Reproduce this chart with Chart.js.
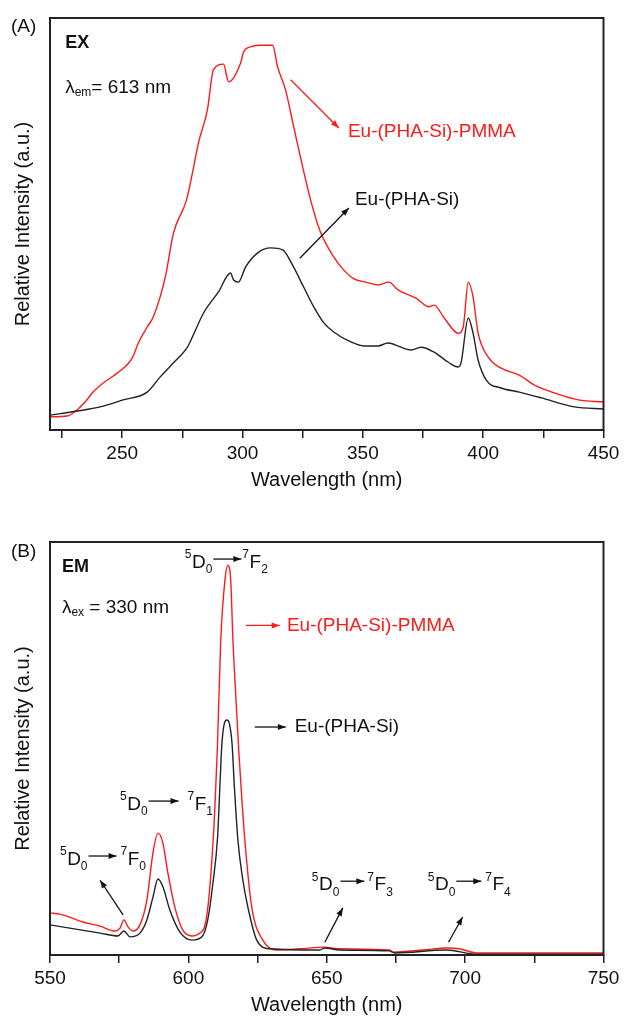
<!DOCTYPE html>
<html><head><meta charset="utf-8">
<script src="https://cdn.jsdelivr.net/npm/chart.js@4.4.1/dist/chart.umd.min.js"></script>
<style>
html,body{margin:0;padding:0;background:#fff;}
body{width:624px;height:1018px;position:relative;overflow:hidden;font-family:"Liberation Sans",Arial,sans-serif;}
.wrap{position:absolute;left:0;width:624px;}
#wa{top:0;height:492px;}
#wb{top:520px;height:497px;}
.pl{position:absolute;font-size:19px;color:#111;line-height:1;}
</style></head><body>
<div class="wrap" id="wa"><canvas id="ca"></canvas></div>
<div class="wrap" id="wb"><canvas id="cb"></canvas></div>
<div class="pl" style="left:11px;top:16px">(A)</div>
<div class="pl" style="left:11px;top:541px">(B)</div>
<script>
// ---- Panel A: excitation spectra (λem = 613 nm) ----
const exPmmaX = [220,227.1,231.3,234.6,237.9,242.1,247.9,254.2,256.7,260.4,262.9,267.9,271.3,276.7,279.2,281.7,285.4,287.9,292.1,294.2,299.2,300.4,303.3,306.7,312.5,314.6,317.9,321.3,325,328.3,332.1,337.9,342.1,346.3,351.3,356.3,360.8,364.6,372.1,377.5,379.6,383.8,389.6,391.7,393.8,395.8,397.9,402.1,407.5,415,421.3,429.6,439.6,450];
const exPmmaY = [3.2,3.4,4.9,6.8,9.2,11.4,13.8,17.5,21.1,25.0,27.4,37.1,47.8,55.8,62.4,69.7,77.7,87.4,88.8,84.5,89.1,91.7,93.0,93.4,93.4,88.1,82.5,73.5,63.8,55.8,48.5,42.0,38.8,36.7,35.9,35.2,35.9,34.0,32.0,29.9,30.3,27.2,23.5,25.0,35.9,32.3,23.5,17.7,15.0,13.3,10.9,9.0,7.3,6.8];
const exNeatX = [220,231.3,240.8,250.4,260.4,265.8,271.3,277.1,279.2,283.8,290,295,296.3,298.3,301.3,306.3,311.7,316.7,320.8,325.4,329.6,333.8,337.9,345,350.4,356.3,360.4,365.8,370,374.2,379.6,385.4,389.6,390.8,393.8,395.8,397.9,401.3,407.5,415,424.2,437.9,450];
const exNeatY = [3.6,4.6,5.6,7.3,9.2,12.9,16.3,20.1,22.6,28.4,33.5,38.1,36.4,35.9,39.6,43.0,44.2,43.7,40.0,34.7,29.9,26.0,23.8,21.4,20.4,20.4,21.1,20.1,19.4,20.1,18.9,16.5,15.3,16.3,27.2,23.5,17.0,12.1,10.2,9.2,7.8,5.6,5.1];
const exTicks = [225,250,275,300,325,350,375,400,425,450];

// ---- Panel B: emission spectra (λex = 330 nm) ----
const emPmmaX = [550,553.6,561.9,568.1,573.5,575.3,576.7,578.2,580,582.5,585,587.2,589,590.8,592.6,595.1,598,601.3,604.2,606,607.2,608.6,609.6,610.5,611.7,613.2,614.3,615.3,616.1,617.2,618.2,619.3,620.4,622.9,626.9,631.9,640.3,649.3,653.6,672.7,673.8,684.7,693.3,698,704.2,750];
const emPmmaY = [10.2,9.9,8.0,7.0,5.8,6.5,8.5,6.8,5.8,7.3,13.3,24.7,29.5,27.1,19.8,11.6,6.0,4.6,5.3,7.2,12.5,24.0,36.0,50.5,76.2,90.7,94.4,90.7,76.2,62.0,49.6,38.0,27.8,11.6,3.6,1.2,1.5,1.9,1.5,1.2,0.7,1.2,1.7,1.5,0.5,0.5];
const emNeatX = [550,568.1,574.5,576.7,578.9,582.5,585,587.2,589,590.8,593.3,596.9,601.3,604.9,607,608.8,610.6,611.4,612.1,612.9,613.9,614.9,615.8,616.6,617.9,619.7,621.5,624.7,629.4,647.5,649.3,654.7,672.7,674.5,693.3,704.2,750];
const emNeatY = [7.3,5.3,4.6,5.8,4.4,5.3,8.5,14.0,18.4,16.5,10.9,5.6,3.6,4.4,8.5,17.0,29.0,41.0,51.0,55.8,56.9,55.8,51.0,41.0,27.8,18.1,11.6,3.6,1.5,1.2,1.7,1.2,1.0,0.5,1.2,0.2,0.2];
const emTicks = [550,575,600,625,650,675,700,725,750];

const seriesNames = ['Eu-(PHA-Si)-PMMA', 'Eu-(PHA-Si)'];
const RED = '#ff1a1a', BLK = '#222222', TXT = '#111111';
const FAM = '"Liberation Sans", Arial, sans-serif';

function pts(xs, ys) { return xs.map((x, i) => ({x: x, y: ys[i]})); }

function arrow(ctx, x1, y1, x2, y2, color) {
  ctx.save();
  ctx.strokeStyle = color; ctx.fillStyle = color; ctx.lineWidth = 1.3;
  ctx.beginPath(); ctx.moveTo(x1, y1); ctx.lineTo(x2, y2); ctx.stroke();
  const a = Math.atan2(y2 - y1, x2 - x1), L = 8, W = 3;
  ctx.beginPath();
  ctx.moveTo(x2, y2);
  ctx.lineTo(x2 - L * Math.cos(a) + W * Math.sin(a), y2 - L * Math.sin(a) - W * Math.cos(a));
  ctx.lineTo(x2 - L * Math.cos(a) - W * Math.sin(a), y2 - L * Math.sin(a) + W * Math.cos(a));
  ctx.closePath(); ctx.fill();
  ctx.restore();
}

function text(ctx, s, x, y, size, color, bold) {
  ctx.font = (bold ? 'bold ' : '') + size + 'px ' + FAM;
  ctx.fillStyle = color; ctx.textAlign = 'left'; ctx.textBaseline = 'middle';
  ctx.fillText(s, x, y);
  return ctx.measureText(s).width;
}

function lambdaLabel(ctx, x, y, sub, rest) {
  x += text(ctx, 'λ', x, y, 19, TXT);
  x += text(ctx, sub, x, y + 5, 12, TXT);
  text(ctx, rest, x, y, 19, TXT);
}

function transition(ctx, x, y, n, len, gap) {
  x += text(ctx, '5', x, y - 8, 12, TXT) + 0.5;
  x += text(ctx, 'D', x, y, 19, TXT);
  x += text(ctx, '0', x, y + 7, 12, TXT) + 1;
  arrow(ctx, x, y - 4, x + len, y - 4, TXT);
  x += len + gap;
  x += text(ctx, '7', x, y - 8, 12, TXT) + 0.5;
  x += text(ctx, 'F', x, y, 19, TXT);
  text(ctx, n, x, y + 7, 12, TXT);
}

// annotation positions in data units (wavelength, relative intensity)
const notesA = {
  ex: [226.3, 93.9], lam: [226.3, 83.0],
  redArrow: [320, 85.0, 340, 73.3], redText: [343.8, 72.3],
  blkArrow: [323.8, 41.7, 344.2, 53.9], blkText: [346.7, 55.8]
};
const notesB = {
  em: [554.3, 93.9], lam: [554.3, 84.0],
  trans: [[598.7, 94.9, '2', 28, 1], [575.3, 36.3, '1', 30, 9], [553.6, 23.0, '0', 28, 4], [644.6, 16.9, '3', 24, 3], [686.5, 16.9, '4', 25, 4]],
  arrows: [[576.4, 9.7, 568.1, 18.1], [649.3, 3.1, 655.8, 11.4], [694.0, 3.1, 699.1, 9.2]],
  redArrow: [620.8, 79.8, 633.0, 79.8], redText: [635.6, 79.8],
  blkArrow: [624.0, 55.2, 635.2, 55.2], blkText: [638.4, 55.2]
};

function boxPlugin(draw) {
  return {
    id: 'boxnotes',
    afterDatasetsDraw(chart) {
      const {ctx, chartArea: a, scales: {x, y}} = chart;
      ctx.save();
      ctx.strokeStyle = BLK; ctx.lineWidth = 2;
      ctx.strokeRect(a.left, a.top, a.right - a.left, a.bottom - a.top);
      const P = (u, v) => [x.getPixelForValue(u), y.getPixelForValue(v)];
      draw(ctx, P);
      ctx.restore();
    }
  };
}

function makeChart(id, xmin, xmax, ticks, xH, padTop, datasets, draw) {
  return new Chart(document.getElementById(id), {
    type: 'line',
    data: {datasets: datasets},
    options: {
      responsive: true, maintainAspectRatio: false, animation: false,
      layout: {padding: {top: padTop, right: 20.5, bottom: 0, left: 0}},
      plugins: {legend: {display: false}, tooltip: {enabled: false}},
      elements: {point: {radius: 0}, line: {borderWidth: 1.4, cubicInterpolationMode: 'monotone'}},
      scales: {
        x: {
          type: 'linear', min: xmin, max: xmax,
          afterBuildTicks: s => { s.ticks = ticks.map(v => ({value: v})); },
          afterFit: s => { s.height = xH; },
          grid: {display: true, drawOnChartArea: false, drawTicks: true, tickLength: 8, color: BLK, lineWidth: 1.5},
          border: {display: false},
          ticks: {autoSkip: false, maxRotation: 0, padding: 4, color: TXT, font: {family: FAM, size: 19},
                  callback: v => (v % 50 === 0 ? String(v) : '')},
          title: {display: true, text: 'Wavelength (nm)', color: TXT, font: {family: FAM, size: 20}, padding: {top: 0, bottom: 0}}
        },
        y: {
          min: 0, max: 100,
          afterFit: s => { s.width = 50; },
          ticks: {display: false}, grid: {display: false}, border: {display: false},
          title: {display: true, text: 'Relative Intensity (a.u.)', color: TXT, font: {family: FAM, size: 20}, padding: {top: 11, bottom: 0}}
        }
      }
    },
    plugins: [boxPlugin(draw)]
  });
}

makeChart('ca', 220, 450, exTicks, 62, 18, [
  {label: seriesNames[1], data: pts(exNeatX, exNeatY), borderColor: BLK},
  {label: seriesNames[0], data: pts(exPmmaX, exPmmaY), borderColor: RED}
], (ctx, P) => {
  let p = P(...notesA.ex); text(ctx, 'EX', p[0], p[1], 18, TXT, true);
  p = P(...notesA.lam); lambdaLabel(ctx, p[0], p[1], 'em', '= 613 nm');
  let a = P(notesA.redArrow[0], notesA.redArrow[1]), b = P(notesA.redArrow[2], notesA.redArrow[3]);
  arrow(ctx, a[0], a[1], b[0], b[1], RED);
  p = P(...notesA.redText); text(ctx, seriesNames[0], p[0], p[1], 19, RED);
  a = P(notesA.blkArrow[0], notesA.blkArrow[1]); b = P(notesA.blkArrow[2], notesA.blkArrow[3]);
  arrow(ctx, a[0], a[1], b[0], b[1], TXT);
  p = P(...notesA.blkText); text(ctx, seriesNames[1], p[0], p[1], 19, TXT);
});

makeChart('cb', 550, 750, emTicks, 62, 22, [
  {label: seriesNames[1], data: pts(emNeatX, emNeatY), borderColor: BLK},
  {label: seriesNames[0], data: pts(emPmmaX, emPmmaY), borderColor: RED}
], (ctx, P) => {
  let p = P(...notesB.em); text(ctx, 'EM', p[0], p[1], 18, TXT, true);
  p = P(...notesB.lam); lambdaLabel(ctx, p[0], p[1], 'ex', ' = 330 nm');
  notesB.trans.forEach(t => { const q = P(t[0], t[1]); transition(ctx, q[0], q[1], t[2], t[3], t[4]); });
  notesB.arrows.forEach(t => { const a = P(t[0], t[1]), b = P(t[2], t[3]); arrow(ctx, a[0], a[1], b[0], b[1], TXT); });
  let a = P(notesB.redArrow[0], notesB.redArrow[1]), b = P(notesB.redArrow[2], notesB.redArrow[3]);
  arrow(ctx, a[0], a[1], b[0], b[1], RED);
  p = P(...notesB.redText); text(ctx, seriesNames[0], p[0], p[1], 19, RED);
  a = P(notesB.blkArrow[0], notesB.blkArrow[1]); b = P(notesB.blkArrow[2], notesB.blkArrow[3]);
  arrow(ctx, a[0], a[1], b[0], b[1], TXT);
  p = P(...notesB.blkText); text(ctx, seriesNames[1], p[0], p[1], 19, TXT);
});
</script>
</body></html>
